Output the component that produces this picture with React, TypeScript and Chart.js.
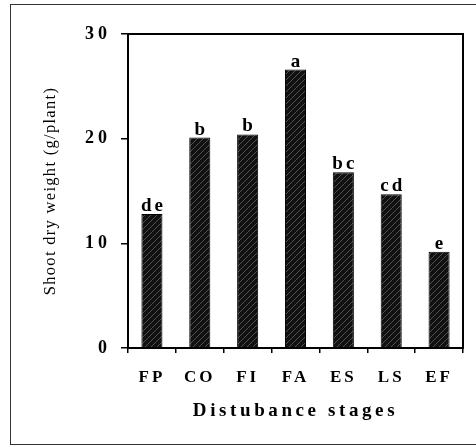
import React, { useEffect, useRef } from "react";
import { Chart, registerables } from "chart.js";

Chart.register(...registerables);

const categories = ["FP", "CO", "FI", "FA", "ES", "LS", "EF"];
const shootDryWeight = [12.8, 20.1, 20.4, 26.6, 16.8, 14.7, 9.2];
const significanceLetters = ["de", "b", "b", "a", "bc", "cd", "e"];
const yTickValues = [0, 10, 20, 30];
const xTitle = "Distubance stages";
const yTitle = "Shoot dry weight (g/plant)";

const SERIF = '"Liberation Serif", "Times New Roman", serif';

function makePattern(ctx: CanvasRenderingContext2D): CanvasPattern | string {
  const c = document.createElement("canvas");
  c.width = 6;
  c.height = 6;
  const p = c.getContext("2d");
  if (!p) return "#222";
  p.fillStyle = "#111";
  p.fillRect(0, 0, 6, 6);
  p.strokeStyle = "#5a5a5a";
  p.lineWidth = 0.9;
  p.beginPath();
  p.moveTo(-1, 7);
  p.lineTo(7, -1);
  p.stroke();
  return ctx.createPattern(c, "repeat") || "#222";
}

const spacingPlugin = {
  id: "letterSpacingWrap",
  beforeDraw(chart: any) {
    const specs: Record<string, { labels: string; title: string }> = {
      x: { labels: "3px", title: "3.6px" },
      y: { labels: "4px", title: "1.3px" },
    };
    for (const id of ["x", "y"]) {
      const s: any = chart.scales[id];
      if (!s || s.__wrapped) continue;
      s.__wrapped = true;
      const dl = s.drawLabels.bind(s);
      const dt = s.drawTitle.bind(s);
      s.drawLabels = function (area: any) {
        const ctx = this.ctx;
        ctx.save();
        ctx.letterSpacing = specs[id].labels;
        dl(area);
        ctx.restore();
      };
      s.drawTitle = function () {
        const ctx = this.ctx;
        ctx.save();
        ctx.letterSpacing = specs[id].title;
        dt();
        ctx.restore();
      };
    }
  },
};

const framePlugin = {
  id: "plotFrame",
  afterDatasetsDraw(chart: any) {
    const { ctx, chartArea } = chart;
    ctx.save();
    ctx.strokeStyle = "#000";
    ctx.lineWidth = 2;
    ctx.strokeRect(chartArea.left, chartArea.top, chartArea.right - chartArea.left, chartArea.bottom - chartArea.top);
    ctx.restore();
  },
};

const letterPlugin = {
  id: "sigLetters",
  afterDatasetsDraw(chart: any) {
    const { ctx } = chart;
    const meta = chart.getDatasetMeta(0);
    ctx.save();
    ctx.fillStyle = "#000";
    ctx.font = `bold 19px ${SERIF}`;
    ctx.textAlign = "center";
    ctx.textBaseline = "alphabetic";
    (ctx as any).letterSpacing = "3px";
    meta.data.forEach((bar: any, i: number) => {
      ctx.fillText(significanceLetters[i], bar.x + 1.5, bar.y - 3);
    });
    ctx.restore();
  },
};

export default function App() {
  const ref = useRef<HTMLCanvasElement | null>(null);

  useEffect(() => {
    const canvas = ref.current;
    if (!canvas) return;
    const ctx = canvas.getContext("2d");
    if (!ctx) return;
    const pattern = makePattern(ctx);
    const chart = new Chart(canvas, {
      type: "bar",
      data: {
        labels: categories,
        datasets: [
          {
            data: shootDryWeight,
            backgroundColor: pattern as any,
            borderColor: "#000",
            borderWidth: 1,
            barPercentage: 0.44,
            categoryPercentage: 1,
          },
        ],
      },
      options: {
        responsive: false,
        animation: false,
        layout: { padding: { left: 0, right: 13, top: 34, bottom: 0 } },
        plugins: { legend: { display: false }, tooltip: { enabled: false } },
        scales: {
          x: {
            offset: true,
            grid: { display: true, drawOnChartArea: false, drawTicks: true, tickLength: 5, color: "#000", lineWidth: 1.5, offset: true },
            border: { display: false },
            ticks: { color: "#000", font: { family: SERIF, size: 17, weight: "bold" }, padding: 14, maxRotation: 0, autoSkip: false },
            title: {
              display: true,
              text: xTitle,
              color: "#000",
              font: { family: SERIF, size: 19, weight: "bold" },
              padding: { top: 0, bottom: 24.6 },
            },
            afterFit(scale: any) {
              scale.height = 99;
            },
          },
          y: {
            min: 0,
            max: 30,
            grid: { display: true, drawOnChartArea: false, drawTicks: true, tickLength: 7, color: "#000", lineWidth: 1.5 },
            border: { display: false },
            ticks: { color: "#000", font: { family: SERIF, size: 18, weight: "bold" }, padding: 10 },
            afterBuildTicks(scale: any) {
              scale.ticks = yTickValues.map((v) => ({ value: v }));
            },
            title: {
              display: true,
              text: yTitle,
              color: "#000",
              font: { family: SERIF, size: 16.5, weight: "normal" },
              padding: { top: 41, bottom: 0 },
            },
            afterFit(scale: any) {
              scale.width = 128;
            },
          },
        },
      },
      plugins: [spacingPlugin, framePlugin, letterPlugin],
    });
    return () => chart.destroy();
  }, []);

  return (
    <div style={{ position: "fixed", left: 0, top: 0, width: 476, height: 447, background: "#fff" }}>
      <div
        style={{
          position: "absolute",
          left: 10,
          top: 4,
          width: 470,
          height: 441,
          border: "1px solid #333",
          boxSizing: "border-box",
        }}
      />
      <canvas ref={ref} width={476} height={447} style={{ position: "absolute", left: 0, top: 0, display: "block" }} />
    </div>
  );
}
